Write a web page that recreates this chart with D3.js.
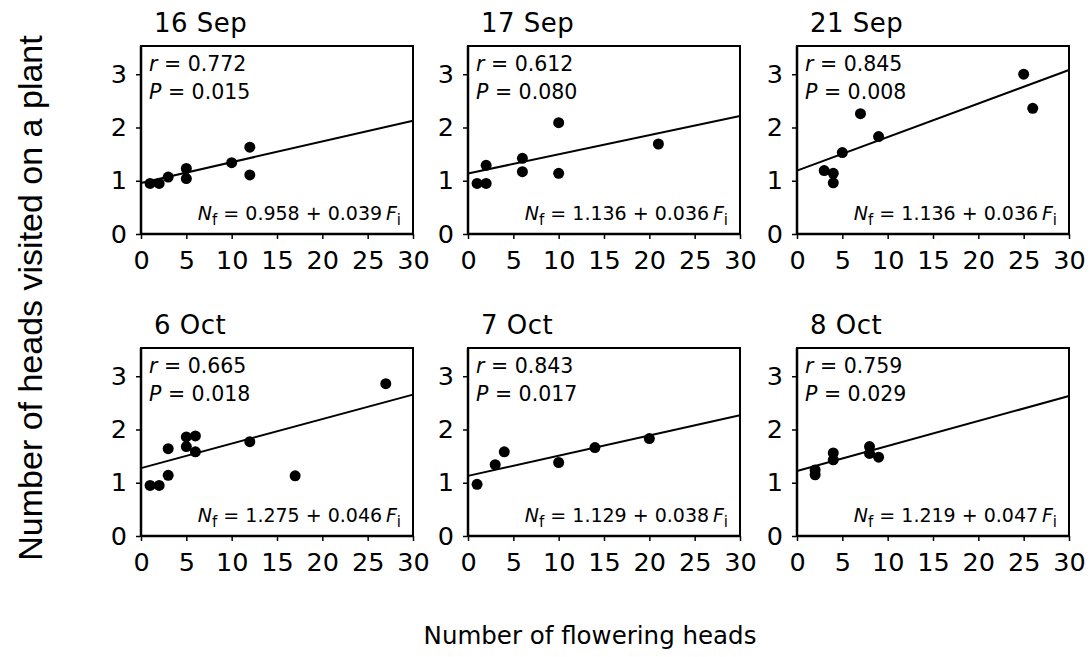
<!DOCTYPE html>
<html>
<head>
<meta charset="utf-8">
<script src="https://cdn.jsdelivr.net/npm/d3@7"></script>
<style>
  body { margin: 0; background: #fff; }
  svg text { fill: #000; }
</style>
</head>
<body>
<div id="chart"></div>
<script>
// panel labels and stats, as printed
const panelTitles = ["16 Sep", "17 Sep", "21 Sep", "6 Oct", "7 Oct", "8 Oct"];
const rValues = ["0.772", "0.612", "0.845", "0.665", "0.843", "0.759"];
const pValues = ["0.015", "0.080", "0.008", "0.018", "0.017", "0.029"];
const eqIntercepts = ["0.958", "1.136", "1.136", "1.275", "1.129", "1.219"];
const eqSlopes = ["0.039", "0.036", "0.036", "0.046", "0.038", "0.047"];

// fitted lines as drawn
const lineIntercepts = [0.958, 1.136, 1.19, 1.275, 1.129, 1.219];
const lineSlopes = [0.039, 0.036, 0.063, 0.046, 0.038, 0.047];

// number of flowering heads (x) and heads visited (y) per panel
const flowering = [
  [1, 2, 3, 5, 5, 10, 12, 12],
  [1, 2, 2, 6, 6, 10, 10, 21],
  [3, 4, 4, 5, 7, 9, 25, 26],
  [1, 2, 3, 3, 5, 5, 6, 6, 12, 17, 27],
  [1, 3, 4, 10, 14, 20],
  [2, 2, 4, 4, 8, 8, 9]
];
const visited = [
  [0.95, 0.95, 1.07, 1.23, 1.04, 1.34, 1.63, 1.11],
  [0.95, 0.95, 1.29, 1.42, 1.17, 2.09, 1.14, 1.69],
  [1.19, 1.14, 0.96, 1.53, 2.26, 1.83, 3.0, 2.36],
  [0.95, 0.95, 1.14, 1.64, 1.86, 1.68, 1.88, 1.58, 1.77, 1.13, 2.86],
  [0.97, 1.34, 1.58, 1.38, 1.66, 1.83],
  [1.24, 1.15, 1.56, 1.43, 1.68, 1.55, 1.48]
];

const xTicks = [0, 5, 10, 15, 20, 25, 30];
const yTicks = [0, 1, 2, 3];

const width = 1092, height = 657;
const colLeft = [141, 468, 797], rowTop = [46, 348];
const pw = 272, ph = 188;
const font = "'DejaVu Sans', sans-serif";

const svg = d3.select("#chart").append("svg")
    .attr("width", width)
    .attr("height", height);

const x = d3.scaleLinear().domain([0, 30]).range([0, pw]);
const y = d3.scaleLinear().domain([0, 3.53]).range([ph, 0]);

panelTitles.forEach((title, i) => {
    let g = svg.append("g")
        .attr("transform", `translate(${colLeft[i % 3]},${rowTop[Math.floor(i / 3)]})`);

    let xAxis = g.append("g")
        .attr("transform", `translate(0,${ph})`)
        .call(d3.axisBottom(x).tickValues(xTicks).tickSize(5).tickPadding(12));
    let yAxis = g.append("g")
        .call(d3.axisLeft(y).tickValues(yTicks).tickFormat(d3.format("d")).tickSize(5).tickPadding(9));
    [xAxis, yAxis].forEach(a => {
        a.select(".domain").remove();
        a.selectAll("line").attr("stroke", "#000").attr("stroke-width", 1.5);
        a.selectAll("text").style("font-family", font).style("font-size", "25.5px");
    });

    g.append("rect")
        .attr("width", pw).attr("height", ph)
        .attr("fill", "none").attr("stroke", "#000").attr("stroke-width", 2);
    g.append("line").attr("x1", 0).attr("x2", pw).attr("y1", ph).attr("y2", ph)
        .attr("stroke", "#000").attr("stroke-width", 2.5);
    g.append("line").attr("x1", 0).attr("x2", 0).attr("y1", 0).attr("y2", ph)
        .attr("stroke", "#000").attr("stroke-width", 2.5);

    g.append("line")
        .attr("x1", x(0)).attr("y1", y(lineIntercepts[i]))
        .attr("x2", x(30)).attr("y2", y(lineIntercepts[i] + lineSlopes[i] * 30))
        .attr("stroke", "#000").attr("stroke-width", 2);

    g.selectAll("circle")
        .data(flowering[i].map((f, j) => [f, visited[i][j]]))
        .enter().append("circle")
        .attr("cx", d => x(d[0]))
        .attr("cy", d => y(d[1]))
        .attr("r", 5.5)
        .attr("fill", "#000");

    g.append("text")
        .attr("x", 13).attr("y", -14)
        .style("font-family", font).style("font-size", "26px")
        .style("letter-spacing", "0.5px")
        .text(title);

    let r = g.append("text").attr("x", 8).attr("y", 25)
        .style("font-family", font).style("font-size", "20.5px");
    r.append("tspan").style("font-style", "italic").text("r");
    r.append("tspan").text(" = " + rValues[i]);

    let p = g.append("text").attr("x", 8).attr("y", 53)
        .style("font-family", font).style("font-size", "20.5px");
    p.append("tspan").style("font-style", "italic").text("P");
    p.append("tspan").text(" = " + pValues[i]);

    let eq = g.append("text").attr("x", pw - 12).attr("y", ph - 14)
        .attr("text-anchor", "end")
        .style("font-family", font).style("font-size", "19px");
    eq.append("tspan").style("font-style", "italic").text("N");
    eq.append("tspan").attr("dy", 5).style("font-size", "15px").text("f");
    eq.append("tspan").attr("dy", -5).text(` = ${eqIntercepts[i]} + ${eqSlopes[i]}\u2009`);
    eq.append("tspan").style("font-style", "italic").text("F");
    eq.append("tspan").attr("dy", 5).style("font-size", "15px").text("i");
});

svg.append("text")
    .attr("transform", "translate(42,298) rotate(-90)")
    .attr("text-anchor", "middle")
    .style("font-family", "'Liberation Sans', Arial, sans-serif")
    .style("font-size", "34px")
    .text("Number of heads visited on a plant");

svg.append("text")
    .attr("x", 590).attr("y", 644)
    .attr("text-anchor", "middle")
    .style("font-family", font)
    .style("font-size", "24.5px")
    .text("Number of flowering heads");
</script>
</body>
</html>
